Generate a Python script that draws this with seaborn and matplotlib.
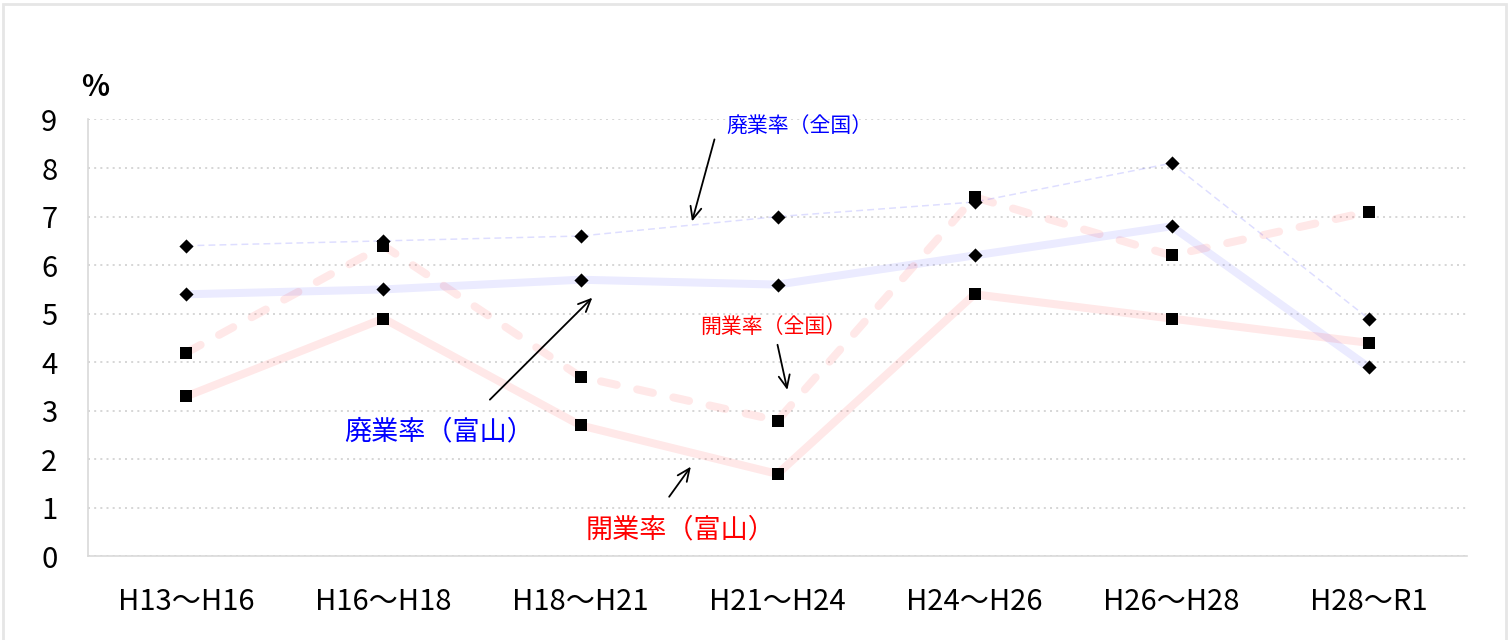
import matplotlib
matplotlib.use("Agg")
import matplotlib.pyplot as plt
import matplotlib.patches as mpatches
import seaborn as sns

# ── data ─────────────────────────────────────────────
periods = ["H13～H16", "H16～H18", "H18～H21", "H21～H24", "H24～H26", "H26～H28", "H28～R1"]
haigyo_zenkoku = [6.4, 6.5, 6.6, 7.0, 7.3, 8.1, 4.9]   # 廃業率(全国)
haigyo_toyama = [5.4, 5.5, 5.7, 5.6, 6.2, 6.8, 3.9]    # 廃業率(富山)
kaigyo_zenkoku = [4.2, 6.4, 3.7, 2.8, 7.4, 6.2, 7.1]   # 開業率(全国)
kaigyo_toyama = [3.3, 4.9, 2.7, 1.7, 5.4, 4.9, 4.4]    # 開業率(富山)
yticks = list(range(0, 10))

# ── style ────────────────────────────────────────────
sns.set_style("white")
plt.rcParams["font.family"] = ["Noto Sans CJK JP", "DejaVu Sans"]

fig = plt.figure(figsize=(15.09, 6.4), dpi=100)
ax = fig.add_axes([0.0583, 0.1305, 0.9139, 0.6828])

# light frame around the whole picture
fig.patches.append(mpatches.Rectangle((0.002, -0.02), 0.996, 1.014, transform=fig.transFigure,
                                      fill=False, edgecolor="#E6E6E6", lw=2))

# lines (light, semi transparent)
sns.lineplot(x=periods, y=haigyo_zenkoku, sort=False, color=(0, 0, 1), alpha=0.13,
             lw=1.1, linestyle=(0, (4.5, 2.7)), ax=ax, zorder=2)
sns.lineplot(x=periods, y=haigyo_toyama, sort=False, color=(0, 0, 1), alpha=0.08,
             lw=5.8, solid_capstyle="round", solid_joinstyle="round", ax=ax, zorder=2)
sns.lineplot(x=periods, y=kaigyo_zenkoku, sort=False, color=(1, 0, 0), alpha=0.09,
             lw=5.8, linestyle=(0, (2.0, 2.6)), dash_capstyle="round", ax=ax, zorder=2)
sns.lineplot(x=periods, y=kaigyo_toyama, sort=False, color=(1, 0, 0), alpha=0.09,
             lw=5.8, solid_capstyle="round", solid_joinstyle="round", ax=ax, zorder=2)

# markers: diamonds then squares on top
for vals in [haigyo_zenkoku, haigyo_toyama]:
    sns.scatterplot(x=periods, y=vals, marker="D", s=52, color="black", linewidth=0, ax=ax, zorder=4)
for vals in [kaigyo_zenkoku, kaigyo_toyama]:
    sns.scatterplot(x=periods, y=vals, marker="s", s=82, color="black", linewidth=0, ax=ax, zorder=5)

# ── axes ─────────────────────────────────────────────
ax.set_xlim(-0.5, 6.5)
ax.set_ylim(0, 9)
ax.set_yticks(yticks)
ax.set_yticklabels([str(v) for v in yticks])
ax.set_xticks(range(len(periods)))
ax.set_xticklabels(periods)
ax.set_xticks([i - 0.5 for i in range(len(periods) + 1)], minor=True)
ax.tick_params(axis="x", which="major", length=0, pad=22, labelsize=21, labelcolor="black")
ax.tick_params(axis="x", which="minor", direction="in", length=11, color="#D9D9D9", width=1)
ax.tick_params(axis="y", length=0, pad=22, labelsize=21, labelcolor="black")
ax.grid(axis="y", linestyle=(0, (1.2, 2.5)), color="#D0D0D0", lw=1.2)
ax.grid(axis="x", visible=False)
ax.set_axisbelow(True)
for side in ["top", "right"]:
    ax.spines[side].set_visible(False)
for side in ["left", "bottom"]:
    ax.spines[side].set_color("#D9D9D9")
    ax.spines[side].set_linewidth(1.2)

ax.text(0.005, 1.075, "%", transform=ax.transAxes, ha="center", va="center",
        fontsize=21, color="black", fontweight="bold")

# ── annotations ──────────────────────────────────────
arrow = dict(arrowstyle="->,head_length=0.9,head_width=0.4", lw=1.3, color="black",
             shrinkA=0, shrinkB=0)

ax.text(3.11, 8.86, "廃業率（全国）", color="#0000FF", fontsize=15, ha="center", va="center")
ax.annotate("", xy=(2.566, 6.90), xytext=(2.68, 8.59), arrowprops=arrow)

ax.text(1.28, 2.57, "廃業率（富山）", color="#0000FF", fontsize=19.5, ha="center", va="center")
ax.annotate("", xy=(2.06, 5.33), xytext=(1.54, 3.23), arrowprops=arrow)

ax.text(2.98, 4.73, "開業率（全国）", color="#FF0000", fontsize=15, ha="center", va="center")
ax.annotate("", xy=(3.05, 3.43), xytext=(3.0, 4.36), arrowprops=arrow)

ax.text(2.51, 0.55, "開業率（富山）", color="#FF0000", fontsize=19.5, ha="center", va="center")
ax.annotate("", xy=(2.56, 1.85), xytext=(2.45, 1.23), arrowprops=arrow)

plt.savefig("out.png", dpi=100)
plt.close()
